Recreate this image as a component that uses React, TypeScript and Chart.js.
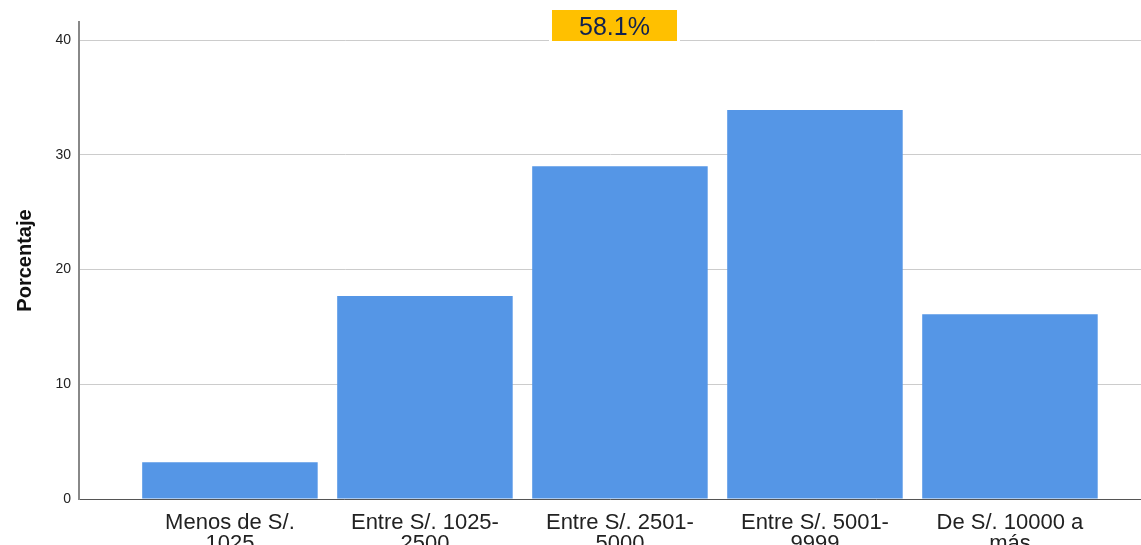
import React, { useEffect, useRef } from "react";
import { Chart, registerables } from "chart.js";

Chart.register(...registerables);

const categories: string[][] = [
  ["Menos de S/.", "1025"],
  ["Entre S/. 1025-", "2500"],
  ["Entre S/. 2501-", "5000"],
  ["Entre S/. 5001-", "9999"],
  ["De S/. 10000 a", "más"],
];
const positions = [1, 2, 3, 4, 5];
const percentages = [3.2, 17.7, 29.0, 33.9, 16.1];
const yTicks = [0, 10, 20, 30, 40];
const annotationText = "58.1%";

const FONT = "'Liberation Sans', Arial, sans-serif";

const annotationPlugin = {
  id: "topLabel",
  afterDraw(chart: any) {
    const { ctx, chartArea } = chart;
    const cx = (chartArea.left + chartArea.right) / 2 + 4.5;
    const w = 125;
    const h = 31;
    const y = 10;
    ctx.save();
    ctx.fillStyle = "#ffffff";
    ctx.fillRect(cx - w / 2 - 3, y - 1, w + 6, h + 2);
    ctx.fillStyle = "#FFC000";
    ctx.fillRect(cx - w / 2, y, w, h);
    ctx.fillStyle = "#10214f";
    ctx.font = `25px ${FONT}`;
    ctx.textAlign = "center";
    ctx.textBaseline = "alphabetic";
    ctx.fillText(annotationText, cx, y + 25);
    ctx.restore();
  },
};

export default function App() {
  const ref = useRef<HTMLCanvasElement | null>(null);
  useEffect(() => {
    if (!ref.current) return;
    const chart = new Chart(ref.current, {
      type: "bar",
      data: {
        datasets: [
          {
            data: positions.map((x, i) => ({ x, y: percentages[i] })),
            backgroundColor: "#5596e6",
            borderWidth: 0,
            barPercentage: 0.9,
            categoryPercentage: 1,
          },
        ],
      },
      options: {
        animation: false,
        responsive: false,
        maintainAspectRatio: false,
        layout: { padding: { top: 22, right: 0, left: 0, bottom: 0 } },
        plugins: { legend: { display: false }, tooltip: { enabled: false } },
        scales: {
          x: {
            type: "linear",
            offset: false,
            min: 0.226,
            max: 5.672,
            afterBuildTicks: (scale: any) => {
              scale.ticks = positions.map((v) => ({ value: v }));
            },
            afterFit: (scale: any) => {
              scale.height = 46;
            },
            grid: { display: false },
            border: { display: true, color: "#555555", width: 1 },
            ticks: {
              autoSkip: false,
              maxRotation: 0,
              padding: 5,
              color: "#222222",
              font: { family: FONT, size: 22, lineHeight: 0.96 },
              callback: (v: any) => {
                const i = positions.indexOf(Number(v));
                return i >= 0 ? categories[i] : "";
              },
            },
          },
          y: {
            min: 0,
            max: 41.57,
            afterBuildTicks: (scale: any) => {
              scale.ticks = yTicks.map((v) => ({ value: v }));
            },
            afterFit: (scale: any) => {
              scale.width = 79;
            },
            grid: { color: "#cccccc", lineWidth: 1, drawTicks: false },
            border: { display: true, color: "#888888", width: 2 },
            title: {
              display: true,
              text: "Porcentaje",
              color: "#111111",
              font: { family: FONT, size: 20, weight: "bold" },
              padding: { top: 13, bottom: 0 },
            },
            ticks: {
              padding: 8,
              color: "#222222",
              font: { family: FONT, size: 14 },
            },
          },
        },
      } as any,
      plugins: [annotationPlugin],
    });
    return () => chart.destroy();
  }, []);
  return (
    <div style={{ position: "absolute", left: 0, top: 0, width: 1141, height: 545, background: "#fff" }}>
      <canvas ref={ref} width={1141} height={545} style={{ width: 1141, height: 545 }} />
    </div>
  );
}
